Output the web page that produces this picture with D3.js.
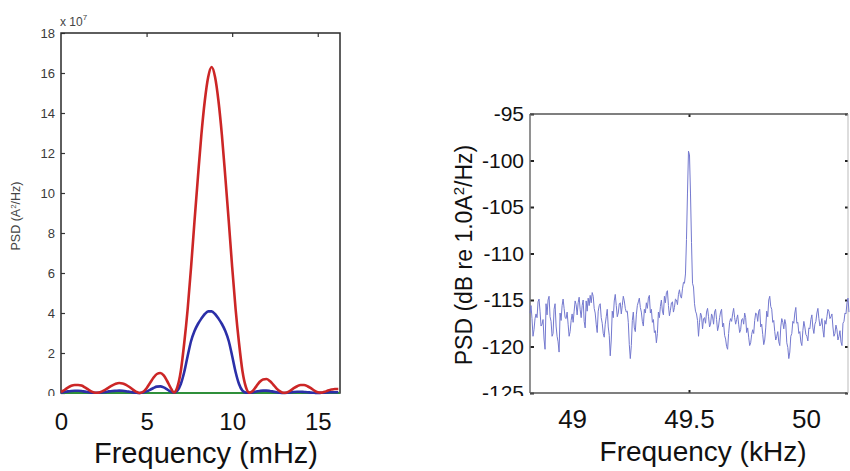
<!DOCTYPE html>
<html>
<head>
<meta charset="utf-8">
<script src="https://cdn.jsdelivr.net/npm/d3@7"></script>
<style>
  body { margin: 0; background: #fff; }
  svg { display: block; font-family: "Liberation Sans", Arial, sans-serif; }
</style>
</head>
<body>
<div id="chart"></div>
<script>
// ---- left panel: PSD in units of 1e7 A^2/Hz vs frequency in mHz
var leftFreq = [0, 0.2, 0.4, 0.6, 0.8, 1.0, 1.2, 1.4, 1.6, 1.8, 2.0, 2.2, 2.4, 2.6, 2.8, 3.0, 3.2, 3.4, 3.6, 3.8,
  4.0, 4.2, 4.4, 4.6, 4.8, 5.0, 5.2, 5.4, 5.6, 5.8, 6.0, 6.2, 6.4, 6.6, 6.8, 7.0, 7.2, 7.4, 7.6, 7.8,
  8.0, 8.2, 8.4, 8.6, 8.8, 9.0, 9.2, 9.4, 9.6, 9.8, 10.0, 10.2, 10.4, 10.6, 10.8, 11.0, 11.2, 11.4, 11.6, 11.8,
  12.0, 12.2, 12.4, 12.6, 12.8, 13.0, 13.2, 13.4, 13.6, 13.8, 14.0, 14.2, 14.4, 14.6, 14.8, 15.0, 15.2, 15.4, 15.6, 15.8,
  16.0, 16.2];
var redPsd = [0.05, 0.15, 0.27, 0.36, 0.4, 0.4, 0.37, 0.28, 0.17, 0.07, 0.01, 0.02, 0.08, 0.17, 0.28, 0.38, 0.46, 0.5, 0.48, 0.41,
  0.3, 0.17, 0.06, 0.0, 0.06, 0.24, 0.5, 0.76, 0.95, 1.0, 0.88, 0.6, 0.27, 0.03, 0.3, 1.1, 2.5, 4.2, 6.3, 8.6,
  10.8, 12.9, 14.6, 15.8, 16.3, 15.8, 14.6, 12.9, 10.8, 8.6, 6.3, 4.2, 2.5, 1.1, 0.3, 0.02, 0.1, 0.32, 0.55, 0.68,
  0.7, 0.6, 0.42, 0.22, 0.08, 0.01, 0.03, 0.12, 0.24, 0.34, 0.4, 0.4, 0.34, 0.24, 0.12, 0.04, 0.02, 0.06, 0.12, 0.17,
  0.2, 0.2];
var bluePsd = [0.02, 0.05, 0.08, 0.1, 0.11, 0.11, 0.1, 0.07, 0.04, 0.02, 0.01, 0.01, 0.03, 0.05, 0.08, 0.1, 0.11, 0.12, 0.11, 0.09,
  0.06, 0.03, 0.01, 0.0, 0.02, 0.08, 0.16, 0.25, 0.32, 0.33, 0.28, 0.18, 0.07, 0.02, 0.12, 0.45, 1.05, 1.85, 2.6, 3.1,
  3.45, 3.72, 3.95, 4.08, 4.08, 3.95, 3.72, 3.45, 3.1, 2.6, 1.85, 1.05, 0.45, 0.12, 0.02, 0.01, 0.03, 0.07, 0.1, 0.12,
  0.12, 0.1, 0.07, 0.04, 0.01, 0.0, 0.01, 0.03, 0.05, 0.06, 0.06, 0.05, 0.04, 0.02, 0.01, 0.0, 0.01, 0.02, 0.03, 0.04,
  0.04, 0.04];
var greenFreq = [0, 16.3];
var greenPsd = [0, 0];
var leftXTicks = [0, 5, 10, 15];
var leftYTicks = [0, 2, 4, 6, 8, 10, 12, 14, 16, 18];

// ---- right panel: PSD in dB re 1.0 A^2/Hz, sampled from 48.82 kHz every 0.00429 kHz
var noiseStartKHz = 48.82;
var noiseStepKHz = 0.00429;
var noiseDb = [
  -116.4, -115.6, -117.0, -118.9, -118.2, -117.0, -116.5, -116.9, -115.2, -114.9,
  -116.2, -117.8, -117.6, -117.1, -119.2, -120.3, -115.4, -116.6, -115.0, -114.6,
  -116.8, -117.3, -118.9, -118.6, -116.0, -115.4, -117.8, -118.9, -119.5, -120.6,
  -116.4, -117.2, -115.6, -114.9, -115.9, -116.9, -117.0, -116.3, -117.6, -118.9,
  -118.4, -117.2, -116.5, -117.4, -116.2, -115.1, -115.5, -116.6, -115.3, -114.7,
  -116.0, -116.9, -115.6, -115.0, -117.3, -118.0, -115.1, -116.2, -114.8, -115.6,
  -114.5, -115.3, -114.2, -114.6, -115.9, -116.4, -117.6, -118.5, -116.2, -115.6,
  -115.4, -116.9, -117.5, -118.6, -119.0, -117.6, -116.8, -116.0, -117.9, -118.8,
  -121.0, -119.3, -116.2, -116.9, -115.1, -114.4, -115.6, -116.8, -116.4, -115.4,
  -115.3, -116.5, -115.6, -114.6, -115.1, -115.9, -116.3, -116.2, -117.4, -119.8,
  -121.3, -119.9, -117.2, -116.3, -118.0, -118.4, -116.6, -115.6, -115.2, -114.8,
  -115.8, -116.3, -117.3, -117.8, -116.0, -116.4, -115.3, -115.9, -114.8, -114.5,
  -116.4, -116.0, -117.4, -117.1, -118.5, -118.3, -119.6, -118.6, -116.3, -116.9,
  -115.7, -115.0, -116.2, -116.6, -114.6, -115.3, -114.2, -114.0, -115.6, -116.7,
  -116.1, -115.3, -115.2, -116.3, -115.8, -114.9, -115.0, -115.5, -114.4, -113.9,
  -114.6, -114.8, -113.8, -113.1, -113.2, -112.2, -108.5, -103.5, -99.0, -99.4,
  -103.5, -108.8, -113.2, -113.6, -115.4, -116.2, -116.5, -117.2, -118.9, -117.4,
  -116.4, -116.7, -118.1, -117.0, -116.9, -117.5, -116.3, -115.9, -116.8, -117.9,
  -117.6, -116.5, -116.8, -117.6, -116.3, -116.0, -117.1, -118.3, -117.8, -116.9,
  -116.3, -116.0, -117.9, -117.5, -118.8, -119.2, -120.0, -120.3, -118.6, -117.4,
  -117.0, -117.3, -116.5, -115.9, -116.9, -117.6, -117.1, -116.6, -117.6, -118.5,
  -118.2, -117.1, -117.0, -117.6, -116.4, -116.9, -118.5, -118.0, -119.0, -119.9,
  -119.6, -118.7, -118.2, -118.6, -117.2, -116.4, -116.5, -117.3, -116.2, -116.0,
  -117.9, -117.6, -118.7, -119.8, -119.3, -118.0, -116.2, -116.8, -115.0, -114.6,
  -115.7, -116.0, -117.4, -117.2, -118.4, -119.3, -118.9, -118.4, -119.5, -119.9,
  -117.9, -117.0, -117.4, -118.1, -117.1, -117.6, -119.6, -120.1, -121.3, -120.6,
  -118.9, -118.6, -117.3, -117.5, -116.4, -115.8, -117.5, -117.4, -118.6, -118.4,
  -119.5, -119.9, -118.3, -117.3, -117.9, -118.7, -118.9, -119.4, -118.0, -118.1,
  -117.1, -116.6, -118.0, -118.6, -117.6, -117.3, -116.4, -115.9, -117.0, -117.8,
  -117.6, -117.0, -118.2, -119.0, -117.2, -117.6, -116.8, -116.0, -116.2, -117.0,
  -116.8, -116.5, -117.9, -118.9, -118.6, -117.7, -118.2, -119.3, -118.9, -118.3,
  -119.5, -119.9, -117.5, -117.3, -116.4, -116.5, -115.3, -114.8, -116.3];
var rightXTicks = [49, 49.5, 50];
var rightYTicks = [-95, -100, -105, -110, -115, -120, -125];

var svg = d3.select("#chart").append("svg")
  .attr("width", 850)
  .attr("height", 471);

svg.append("rect").attr("width", 850).attr("height", 471).attr("fill", "#fff");

// ================= LEFT PANEL =================
var xL = d3.scaleLinear().domain([0, 16.3]).range([61, 340]);
var yL = d3.scaleLinear().domain([0, 18]).range([393, 33]);

// y axis with inward ticks
var yAxisL = svg.append("g")
  .attr("transform", "translate(61,0)")
  .call(d3.axisLeft(yL).tickValues(leftYTicks).tickSize(-4).tickPadding(6).tickSizeOuter(0));
yAxisL.select(".domain").remove();
yAxisL.selectAll("line").attr("stroke", "#333").attr("stroke-width", 1.2);
yAxisL.selectAll("text")
  .style("font-size", "13px")
  .attr("fill", "#3a3a3a");

// top inward ticks
var topAxisL = svg.append("g")
  .attr("transform", "translate(0,33)")
  .call(d3.axisTop(xL).tickValues([5, 10, 15]).tickSize(-4).tickFormat("").tickSizeOuter(0));
topAxisL.select(".domain").remove();
topAxisL.selectAll("line").attr("stroke", "#333").attr("stroke-width", 1.2);

// x axis labels
var xAxisL = svg.append("g")
  .attr("transform", "translate(0,393)")
  .call(d3.axisBottom(xL).tickValues(leftXTicks).tickSize(0).tickFormat(d => String(d)));
xAxisL.select(".domain").remove();
xAxisL.selectAll("text")
  .attr("y", 37)
  .attr("dy", 0)
  .style("font-size", "24px")
  .attr("fill", "#111");

// plot box
svg.append("rect")
  .attr("x", 61).attr("y", 33)
  .attr("width", 279).attr("height", 360)
  .attr("fill", "none")
  .attr("stroke", "#2a2a2a")
  .attr("stroke-width", 1.5);

var lineL = d3.line()
  .x(d => xL(d[0]))
  .y(d => yL(d[1]))
  .curve(d3.curveMonotoneX);

svg.append("path")
  .datum(greenFreq.map((f, i) => [f, greenPsd[i]]))
  .attr("d", lineL)
  .attr("fill", "none")
  .attr("stroke", "#2f8f3a")
  .attr("stroke-width", 2.2);

svg.append("path")
  .datum(leftFreq.map((f, i) => [f, bluePsd[i]]))
  .attr("d", lineL)
  .attr("fill", "none")
  .attr("stroke", "#2b2fa8")
  .attr("stroke-width", 2.6);

svg.append("path")
  .datum(leftFreq.map((f, i) => [f, redPsd[i]]))
  .attr("d", lineL)
  .attr("fill", "none")
  .attr("stroke", "#cc2626")
  .attr("stroke-width", 2.6);

// exponent label
var expLabel = svg.append("text")
  .attr("x", 60).attr("y", 26)
  .style("font-size", "12px")
  .attr("fill", "#444")
  .text("x 10");
expLabel.append("tspan").attr("dy", -6).style("font-size", "8px").text("7");

// y label
var yLabelL = svg.append("text")
  .attr("transform", "translate(20,216) rotate(-90)")
  .attr("text-anchor", "middle")
  .style("font-size", "12.5px")
  .attr("fill", "#444")
  .text("PSD (A");
yLabelL.append("tspan").attr("dy", -4).style("font-size", "8px").text("2");
yLabelL.append("tspan").attr("dy", 4).text("/Hz)");

// x label
svg.append("text")
  .attr("x", 206).attr("y", 463)
  .attr("text-anchor", "middle")
  .style("font-size", "29px")
  .attr("fill", "#111")
  .text("Frequency (mHz)");

// ================= RIGHT PANEL =================
var xR = d3.scaleLinear().domain([48.82, 50.18]).range([530, 848]);
var yR = d3.scaleLinear().domain([-125, -95]).range([393, 114]);

var yAxisR = svg.append("g")
  .attr("transform", "translate(530,0)")
  .call(d3.axisLeft(yR).tickValues(rightYTicks).tickSize(-4).tickPadding(6).tickSizeOuter(0)
    .tickFormat(d => String(d)));
yAxisR.select(".domain").remove();
yAxisR.selectAll("line").attr("stroke", "#222").attr("stroke-width", 2);
yAxisR.selectAll("text")
  .style("font-size", "21px")
  .attr("fill", "#111");

// right-edge inward ticks
var yAxisR2 = svg.append("g")
  .attr("transform", "translate(848,0)")
  .call(d3.axisRight(yR).tickValues(rightYTicks).tickSize(-3).tickFormat("").tickSizeOuter(0));
yAxisR2.select(".domain").remove();
yAxisR2.selectAll("line").attr("stroke", "#222").attr("stroke-width", 2);

// top and bottom tick at 49.5
[114, 393].forEach(function(yy, k) {
  var ax = k === 0 ? d3.axisTop(xR) : d3.axisBottom(xR);
  var g = svg.append("g")
    .attr("transform", "translate(0," + yy + ")")
    .call(ax.tickValues([49.5]).tickSize(-3).tickFormat("").tickSizeOuter(0));
  g.select(".domain").remove();
  g.selectAll("line").attr("stroke", "#222").attr("stroke-width", 2);
});

var xAxisR = svg.append("g")
  .attr("transform", "translate(0,393)")
  .call(d3.axisBottom(xR).tickValues(rightXTicks).tickSize(0).tickFormat(d => String(d)));
xAxisR.select(".domain").remove();
xAxisR.selectAll("text")
  .attr("y", 35)
  .attr("dy", 0)
  .style("font-size", "26px")
  .attr("fill", "#111");

// frame lines
svg.append("line").attr("x1", 530).attr("x2", 530).attr("y1", 114).attr("y2", 393)
  .attr("stroke", "#777").attr("stroke-width", 1.6);
svg.append("line").attr("x1", 530).attr("x2", 848).attr("y1", 114).attr("y2", 114)
  .attr("stroke", "#555").attr("stroke-width", 1.4);
svg.append("line").attr("x1", 530).attr("x2", 848).attr("y1", 393).attr("y2", 393)
  .attr("stroke", "#555").attr("stroke-width", 1.4);
svg.append("line").attr("x1", 848).attr("x2", 848).attr("y1", 114).attr("y2", 393)
  .attr("stroke", "#bbb").attr("stroke-width", 1);

var lineR = d3.line()
  .x((d, i) => xR(noiseStartKHz + i * noiseStepKHz))
  .y(d => yR(d));

svg.append("path")
  .datum(noiseDb)
  .attr("d", lineR)
  .attr("fill", "none")
  .attr("stroke", "#7479cf")
  .attr("stroke-width", 1);

var yLabelR = svg.append("text")
  .attr("transform", "translate(472,255) rotate(-90)")
  .attr("text-anchor", "middle")
  .style("font-size", "23px")
  .attr("fill", "#111")
  .text("PSD (dB re 1.0A");
yLabelR.append("tspan").attr("dy", -8).style("font-size", "15px").text("2");
yLabelR.append("tspan").attr("dy", 8).text("/Hz)");

svg.append("text")
  .attr("x", 703).attr("y", 461)
  .attr("text-anchor", "middle")
  .style("font-size", "28px")
  .attr("fill", "#111")
  .text("Frequency (kHz)");

// the bottom tick labels are cut off in the source figure
svg.append("rect").attr("x", 470).attr("y", 396).attr("width", 58).attr("height", 8).attr("fill", "#fff");
svg.append("rect").attr("x", 30).attr("y", 396).attr("width", 28).attr("height", 6).attr("fill", "#fff");
</script>
</body>
</html>
